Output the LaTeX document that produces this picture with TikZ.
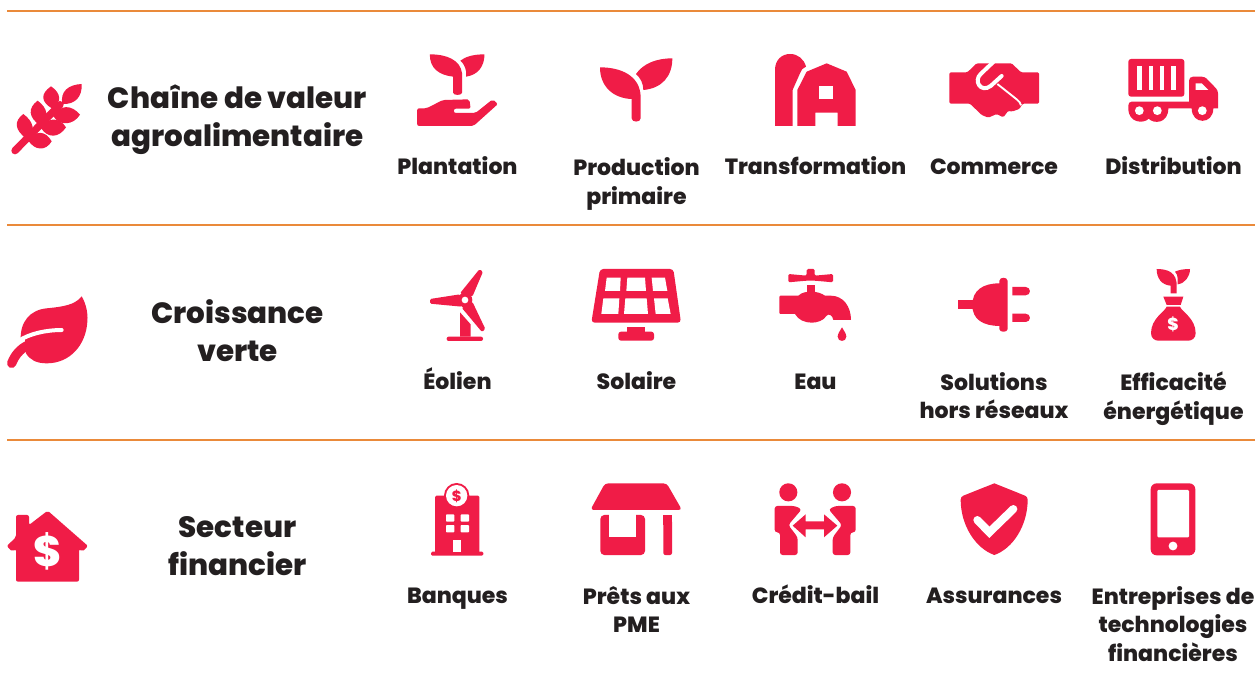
\documentclass[tikz,border=0pt]{standalone}
\usepackage{fontspec}
\setmainfont{Poppins}[BoldFont={Poppins ExtraBold}]
\definecolor{crim}{HTML}{F01C47}
\definecolor{rule}{HTML}{EA8A3A}
\definecolor{ink}{HTML}{231F20}
\tikzset{
  ico/.style={fill=crim,draw=none},
  hole/.style={fill=white,draw=none},
  sep/.style={draw=rule,line width=1.2pt},
  lab/.style={anchor=north,inner sep=0pt,align=center,text=ink,font=\fontsize{16.5}{21.6}\selectfont\bfseries,execute at begin node={\rule{0pt}{17pt}}},
  ttl/.style={anchor=north,inner sep=0pt,align=center,text=ink,font=\fontsize{22}{28.5}\selectfont\bfseries,execute at begin node={\rule{0pt}{21pt}}},
  zA/.style={shift={(0,40)},x=.30612pt,y=-.25pt},
  zB/.style={shift={(740,40)},x=.25pt,y=-.25pt},
  zC/.style={shift={(0,255)},x=.25pt,y=-.25pt},
  zD/.style={shift={(410,255)},x=.25pt,y=-.25pt},
  zE/.style={shift={(940,255)},x=.25pt,y=-.25pt},
  zF/.style={shift={(0,470)},x=.25pt,y=-.25pt},
  zG/.style={shift={(420,475)},x=.25pt,y=-.25pt},
  zH/.style={shift={(950,475)},x=.25pt,y=-.25pt},
  zI/.style={shift={(590,50)},x=.25pt,y=-.25pt},
  zJ/.style={shift={(5,78)},x=.25pt,y=-.25pt},
}
\begin{document}
\begin{tikzpicture}[x=.75pt,y=-.75pt]
\useasboundingbox (0,0) rectangle (1258,677);
\fill[white] (0,0) rectangle (1258,677);
% separators
\coordinate (s1a) at (7,11);\coordinate (s1b) at (1255,11);
\coordinate (s2a) at (7,225);\coordinate (s2b) at (1255,225);
\coordinate (s3a) at (7,440);\coordinate (s3b) at (1255,440);
\draw[sep] (s1a)--(s1b);
\draw[sep] (s2a)--(s2b);
\draw[sep] (s3a)--(s3b);
% titles
\node[ttl] (t1) at (237.5,85) {Chaîne de valeur\\agroalimentaire};
\node[ttl] (t2) at (237.5,299) {Croissance\\verte};
\node[ttl] (t3) at (237.5,516) {Secteur\\financier};
% labels
\node[lab] (a1) at (457.5,152) {Plantation};
\node[lab] (a2) at (636.5,157.5) {Production\\primaire};
\node[lab] (a3) at (815.5,152) {Transformation};
\node[lab] (a4) at (994,152) {Commerce};
\node[lab] (a5) at (1173.5,152) {Distribution};
\node[lab] (b1) at (457.5,367) {Éolien};
\node[lab] (b2) at (636.5,367) {Solaire};
\node[lab] (b3) at (815.5,367) {Eau};
\node[lab] (b4) at (994,372) {Solutions\\hors réseaux};
\node[lab] (b5) at (1173.5,372) {Efficacité\\énergétique};
\node[lab] (c1) at (457.5,581) {Banques};
\node[lab] (c2) at (636.5,586) {Prêts aux\\PME};
\node[lab] (c3) at (815.5,581) {Crédit-bail};
\node[lab] (c4) at (994,581) {Assurances};
\node[lab] (c5) at (1173,586) {Entreprises de\\technologies\\financières};
% wheat
\begin{scope}[zJ]
\draw[crim,line width=5.5pt,line cap=round] (30,218)--(165,80);
\fill[ico] (172,78) .. controls (165,40) and (190,20) .. (230,18) .. controls (232,55) and (212,80) .. (172,78)--cycle;
\fill[ico] (142,92) .. controls (108,72) and (105,48) .. (138,25) .. controls (168,45) and (172,72) .. (142,92)--cycle;
\fill[ico] (145,115) .. controls (165,78) and (200,80) .. (225,110) .. controls (205,142) and (165,145) .. (145,115)--cycle;
\fill[ico] (105,142) .. controls (70,118) and (68,90) .. (98,68) .. controls (128,90) and (135,120) .. (105,142)--cycle;
\fill[ico] (108,150) .. controls (128,115) and (165,118) .. (183,148) .. controls (162,180) and (128,182) .. (108,150)--cycle;
\fill[ico] (65,182) .. controls (30,158) and (25,130) .. (55,108) .. controls (85,130) and (95,160) .. (65,182)--cycle;
\fill[ico] (70,188) .. controls (92,155) and (122,158) .. (140,190) .. controls (122,220) and (90,218) .. (70,188)--cycle;
\end{scope}
% plant hand
\begin{scope}[zA]
\fill[ico] (1053,43) .. controls (1095,43) and (1128,60) .. (1132,100) -- (1132,158) .. controls (1132,167) and (1110,167) .. (1110,158) -- (1110,110) .. controls (1075,105) and (1053,85) .. (1053,43)--cycle;
\fill[ico] (1187,43) .. controls (1187,80) and (1170,105) .. (1142,110) -- (1142,95) .. controls (1140,80) and (1135,70) .. (1128,62) .. controls (1140,50) and (1160,43) .. (1187,43)--cycle;
\fill[ico,rounded corners=1.5pt] (1022,205)--(1045,205)--(1085,180)--(1150,178)--(1153,206)--(1112,206)--(1112,219)--(1165,219)--(1207,178)--(1220,192)--(1160,258)--(1022,258)--cycle;
\end{scope}
% sprout
\begin{scope}[zI]
\fill[ico] (30,52) .. controls (90,52) and (150,75) .. (152,140) -- (152,205) .. controls (152,218) and (125,218) .. (125,205) -- (125,147) .. controls (70,145) and (30,110) .. (30,52)--cycle;
\fill[ico] (247,25) .. controls (247,80) and (215,115) .. (160,120) .. controls (160,100) and (152,85) .. (138,72) .. controls (160,40) and (200,25) .. (247,25)--cycle;
\end{scope}
% barn, handshake, truck
\begin{scope}[zB]
\fill[ico] (105,258)--(105,90) .. controls (105,60) and (125,42) .. (150,42) .. controls (175,42) and (192,58) .. (198,80) .. controls (188,82) and (185,90) .. (180,100) -- (160,145)--(158,150)--(158,258)--cycle;
\fill[ico] (172,258)--(172,150)--(200,95)--(260,70)--(320,95)--(347,150)--(347,258)--(293,258)--(293,218)--(226,218)--(226,258)--cycle;
\fill[hole] (238,138) rectangle (280,178);
\fill[ico,rounded corners=1pt] (628,97)--(682,97)--(710,70)--(815,70)--(843,97)--(897,97)--(897,191)--(848,191)--(838,207)--(815,215)--(805,212)--(790,232)--(770,222)--(745,233)--(725,225)--(690,191)--(628,191)--cycle;
\draw[white,line width=3pt,line cap=round] (760,66)--(722,102) .. controls (700,122) and (722,160) .. (752,138) -- (785,108);
\draw[white,line width=1.4pt] (772,132)--(830,178) .. controls (838,184) and (842,190) .. (843,196);
\fill[ico,rounded corners=2pt] (1165,57) rectangle (1333,170);
\foreach \sx in {1192,1226,1259,1293}{\fill[hole] (\sx,77) rectangle (\sx+14,150);}
\fill[ico] (1165,197) .. controls (1165,190) and (1168,185) .. (1175,185) -- (1347,185) -- (1347,122) .. controls (1347,115) and (1352,110) .. (1359,110) -- (1385,110) .. controls (1392,110) and (1396,113) .. (1400,116) -- (1428,145) .. controls (1432,150) and (1434,155) .. (1434,160) -- (1434,205) -- (1420,205) .. controls (1420,255) and (1355,255) .. (1355,205) -- (1285,205) .. controls (1285,252) and (1240,252) .. (1226,236) .. controls (1212,252) and (1165,250) .. (1165,205)--cycle;
\fill[hole] (1198,212) circle[radius=3.3pt];
\fill[hole] (1252,212) circle[radius=3.3pt];
\fill[hole] (1387,212) circle[radius=3.3pt];
\fill[hole] (1367,130)--(1385,130)--(1405,150)--(1367,150)--cycle;
\end{scope}
% leaf
\begin{scope}[zC]
\fill[ico] (62,255) .. controls (60,200) and (90,165) .. (140,160) .. controls (190,155) and (225,150) .. (245,124) .. controls (255,140) and (265,170) .. (262,200) .. controls (258,270) and (210,325) .. (140,325) .. controls (110,325) and (90,315) .. (78,295) -- (75,250)--cycle;
\draw[white,line width=3pt,line cap=round] (55,258) .. controls (90,235) and (140,225) .. (185,225);
\draw[crim,line width=7pt,line cap=round] (35,325) .. controls (45,300) and (60,282) .. (85,270);
\end{scope}
% turbine, solar, tap
\begin{scope}[zD]
\fill[ico,rounded corners=1pt] (150,115)--(208,43)--(219,50)--(187,125)--cycle;
\fill[ico,rounded corners=1pt] (150,118)--(60,132)--(60,146)--(155,155)--cycle;
\fill[ico,rounded corners=1pt] (187,140)--(226,222)--(216,231)--(155,158)--cycle;
\fill[ico] (165,135) circle[radius=5.5pt];
\fill[hole] (165,135) circle[radius=2.5pt];
\fill[ico] (150,172)--(182,208)--(182,245)--(150,245)--cycle;
\fill[ico,rounded corners=1.5pt] (110,245) rectangle (219,258);
\fill[ico,rounded corners=2.5pt] (570,42)--(790,42)--(813,203)--(544,203)--cycle;
\fill[hole] (590,68)--(632,68)--(630,108)--(585,108)--cycle;
\fill[hole] (652,68)--(705,68)--(708,108)--(649,108)--cycle;
\fill[hole] (725,68)--(765,68)--(772,108)--(729,108)--cycle;
\fill[hole] (580,130)--(628,130)--(625,177)--(574,177)--cycle;
\fill[hole] (646,130)--(710,130)--(714,177)--(642,177)--cycle;
\fill[hole] (732,130)--(773,130)--(782,177)--(737,177)--cycle;
\fill[ico] (652,216) rectangle (705,235);
\fill[ico,rounded corners=2pt] (625,230) rectangle (732,257);
% tap
\fill[ico,rounded corners=1pt] (1135,57)--(1190,62)--(1190,42)--(1214,42)--(1214,62)--(1269,57)--(1269,82)--(1214,77)--(1190,77)--(1135,82)--cycle;
\fill[ico] (1190,90) rectangle (1215,112);
\fill[ico] (1108,125) .. controls (1108,123) and (1109,122) .. (1111,122) -- (1165,122) .. controls (1175,112) and (1190,110) .. (1205,110) .. controls (1220,110) and (1235,115) .. (1245,122) -- (1262,122) .. controls (1300,122) and (1323,155) .. (1323,195) -- (1270,195) .. controls (1268,180) and (1255,175) .. (1250,182) .. controls (1240,198) and (1220,203) .. (1205,203) .. controls (1185,203) and (1165,195) .. (1155,177) -- (1111,177) .. controls (1109,177) and (1108,176) .. (1108,174) --cycle;
\fill[ico] (1296,217) .. controls (1290,228) and (1283,236) .. (1283,245) .. controls (1283,262) and (1309,262) .. (1309,245) .. controls (1309,236) and (1302,228) .. (1296,217)--cycle;
\end{scope}
% plug and bag
\begin{scope}[zE]
\fill[ico] (178,85) .. controls (130,85) and (97,105) .. (97,150) .. controls (97,195) and (130,212) .. (178,213) -- (178,222) .. controls (178,233) and (203,233) .. (203,222) -- (203,78) .. controls (203,65) and (178,65) .. (178,78)--cycle;
\fill[ico] (55,135) rectangle (105,162);
\fill[ico] (217,96)--(257,96) .. controls (274,96) and (274,121) .. (257,121) -- (217,121)--cycle;
\fill[ico] (217,176)--(257,176) .. controls (274,176) and (274,201) .. (257,201) -- (217,201)--cycle;
\fill[ico] (650,42) .. controls (680,42) and (712,50) .. (710,95) -- (710,115) -- (692,115) -- (692,92) .. controls (665,90) and (650,70) .. (650,42)--cycle;
\fill[ico] (750,42) .. controls (750,65) and (735,85) .. (713,88) -- (713,70) .. controls (713,62) and (710,55) .. (705,50) .. controls (715,45) and (730,42) .. (750,42)--cycle;
\fill[ico] (670,125)--(730,125)--(722,150)--(680,150)--cycle;
\fill[ico] (680,155)--(720,155) .. controls (725,170) and (767,190) .. (767,235) .. controls (767,250) and (755,257) .. (745,257) -- (655,257) .. controls (645,257) and (633,250) .. (633,235) .. controls (633,190) and (675,170) .. (680,155)--cycle;
\node[inner sep=0pt,text=white,font=\fontsize{13}{13}\selectfont\bfseries] (dbag) at (699,209) {\$};
\end{scope}
% house
\begin{scope}[zF]
\fill[ico,rounded corners=1.5pt] (48,135)--(87,135)--(87,165)--(143,122)--(264,228)--(247,245)--(237,237)--(237,335)--(48,335)--(48,237)--(37,245)--(20,228)--(48,202)--cycle;
\node[inner sep=0pt,text=white,font=\fontsize{32}{32}\selectfont\bfseries] (dhouse) at (142,243) {\$};
\end{scope}
% bank, shop, lease
\begin{scope}[zG]
\fill[ico,rounded corners=1pt] (45,62) rectangle (178,235);
\fill[ico,rounded corners=1pt] (33,230) rectangle (190,242);
\fill[ico] (110,62) circle[radius=9.5pt];
\fill[hole] (110,62) circle[radius=8pt];
\node[inner sep=0pt,text=crim,font=\fontsize{11}{11}\selectfont\bfseries] (dbank) at (110,65) {\$};
\foreach \wx/\wy in {78/118,122/118,78/150,122/150}{\fill[hole,rounded corners=.6pt] (\wx,\wy) rectangle (\wx+25,\wy+22);}
\fill[hole] (100,195) rectangle (123,230);
\fill[ico,rounded corners=2.5pt] (555,25)--(740,25)--(786,105)--(511,105)--cycle;
\fill[ico,rounded corners=3pt] (541,120)--(541,240)--(675,240)--(675,120)--cycle;
\fill[hole] (567,115) rectangle (648,187);
\fill[ico,rounded corners=1.5pt] (730,135)--(730,240)--(756,240)--(756,135)--cycle;
\fill[ico] (730,120) rectangle (756,150);
\fill[ico] (1105,52) circle[radius=6.8pt];
\fill[ico] (1266,52) circle[radius=6.8pt];
\fill[ico,rounded corners=2pt] (1064,93)--(1125,93)--(1145,103)--(1105,150)--(1133,187)--(1133,240)--(1080,240)--(1080,172)--(1064,172)--cycle;
\fill[ico,rounded corners=2pt] (1307,93)--(1246,93)--(1226,103)--(1266,150)--(1238,187)--(1238,240)--(1291,240)--(1291,172)--(1307,172)--cycle;
\fill[ico] (1118,152)--(1157,118)--(1157,139)--(1212,139)--(1212,118)--(1252,152)--(1212,187)--(1212,163)--(1157,163)--(1157,187)--cycle;
\end{scope}
% shield, phone
\begin{scope}[zH]
\fill[ico] (133,25)--(225,62) .. controls (230,64) and (233,68) .. (233,74) .. controls (233,150) and (190,220) .. (133,240) .. controls (76,220) and (32,150) .. (32,74) .. controls (32,68) and (35,64) .. (40,62)--cycle;
\draw[white,line width=6pt,line cap=round] (82,135)--(118,172)--(190,102);
\fill[ico,rounded corners=4.5pt] (602,25) rectangle (736,241);
\fill[hole,rounded corners=.8pt] (622,45) rectangle (717,187);
\fill[hole] (669,213) circle[radius=3.3pt];
\end{scope}
\end{tikzpicture}
\end{document}
